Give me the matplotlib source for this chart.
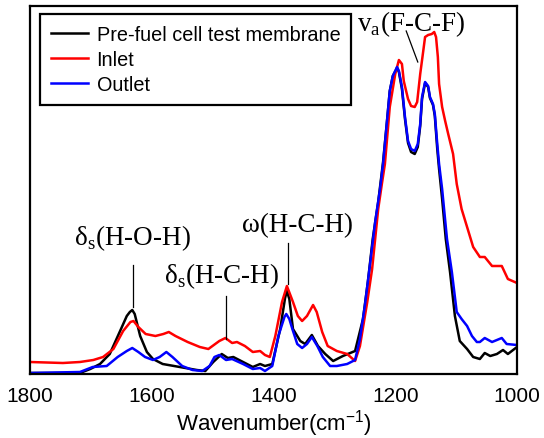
import matplotlib
matplotlib.use("Agg")
import matplotlib.pyplot as plt
import numpy as np

plt.rcParams["font.family"] = ["Liberation Sans", "DejaVu Sans"]
plt.rcParams["mathtext.fontset"] = "custom"
plt.rcParams["mathtext.rm"] = "Liberation Serif"
plt.rcParams["mathtext.sf"] = "Liberation Sans"

# FTIR spectra (arb. units)
wn_pre = [1800, 1718, 1701, 1685, 1669, 1652, 1641, 1636, 1632, 1628, 1619, 1608,
          1598, 1582, 1554, 1526, 1512, 1499, 1485, 1475, 1466, 1450, 1434, 1422,
          1414, 1402, 1389, 1381, 1378, 1374, 1368, 1356, 1348, 1337, 1327, 1315,
          1302, 1286, 1266, 1253, 1245, 1237, 1228, 1220, 1214, 1209, 1204, 1197,
          1194, 1189, 1184, 1179, 1174, 1168, 1163, 1159, 1156, 1151, 1146, 1143,
          1138, 1135, 1131, 1128, 1123, 1117, 1110, 1102, 1094, 1082, 1072, 1061,
          1053, 1044, 1033, 1023, 1015, 1000]
abs_pre = [1, 1, 5, 10, 20, 43, 58, 62, 64, 60, 38, 22,
           15, 10, 7, 4, 3, 12, 20, 16, 17, 12, 7, 10,
           8, 10, 45, 76, 83, 75, 45, 33, 30, 39, 28, 20,
           13, 18, 23, 55, 92, 135, 172, 212, 250, 283, 298, 306,
           302, 285, 255, 231, 222, 220, 227, 248, 275, 291, 287, 276,
           269, 258, 225, 205, 175, 135, 102, 58, 33, 25, 17, 15,
           21, 18, 20, 24, 20, 27]

wn_inlet = [1800, 1746, 1718, 1696, 1680, 1663, 1647, 1635, 1630, 1622, 1610, 1594,
            1581, 1572, 1561, 1541, 1521, 1507, 1489, 1479, 1468, 1460, 1447, 1434,
            1422, 1414, 1406, 1397, 1386, 1378, 1368, 1360, 1353, 1345, 1335, 1329,
            1320, 1311, 1296, 1279, 1266, 1258, 1246, 1238, 1228, 1222, 1217, 1209,
            1200, 1194, 1189, 1186, 1179, 1174, 1168, 1164, 1159, 1154, 1151, 1146,
            1140, 1136, 1133, 1130, 1128, 1123, 1118, 1113, 1105, 1099, 1091, 1081,
            1072, 1061, 1053, 1041, 1025, 1015, 1000]
abs_inlet = [12, 11, 12, 14, 17, 25, 43, 52, 53, 47, 40, 38,
             40, 42, 38, 32, 27, 25, 33, 36, 31, 32, 28, 22,
             23, 19, 17, 38, 72, 88, 72, 58, 53, 58, 69, 62,
             42, 28, 23, 20, 13, 28, 72, 105, 165, 190, 210, 267,
             300, 314, 310, 293, 275, 268, 267, 272, 300, 323, 337, 339,
             340, 342, 337, 317, 290, 267, 253, 240, 220, 190, 165, 145,
             127, 117, 117, 108, 108, 95, 91]

wn_outlet = [1800, 1718, 1697, 1674, 1656, 1641, 1632, 1622, 1611, 1598, 1587, 1576,
             1566, 1550, 1533, 1517, 1505, 1497, 1489, 1478, 1468, 1450, 1434, 1422,
             1414, 1402, 1392, 1382, 1379, 1374, 1369, 1361, 1353, 1345, 1337, 1328,
             1319, 1307, 1296, 1279, 1266, 1258, 1250, 1241, 1233, 1225, 1220, 1214,
             1209, 1204, 1197, 1194, 1189, 1184, 1179, 1174, 1168, 1163, 1159, 1156,
             1151, 1146, 1143, 1138, 1135, 1131, 1128, 1123, 1115, 1107, 1099, 1091,
             1082, 1074, 1066, 1061, 1053, 1041, 1025, 1017, 1000]
abs_outlet = [1, 2, 7, 8, 17, 23, 26, 22, 17, 14, 17, 22,
              17, 8, 4, 3, 8, 17, 19, 14, 15, 10, 5, 6,
              3, 8, 38, 57, 60, 55, 45, 30, 26, 30, 37, 28,
              17, 8, 8, 10, 14, 35, 68, 112, 152, 185, 210, 250,
              283, 298, 307, 303, 287, 257, 233, 225, 223, 230, 250, 277,
              292, 288, 277, 270, 260, 230, 210, 185, 135, 102, 62, 55,
              48, 38, 32, 32, 36, 32, 36, 30, 29]

series = [
    ("Pre-fuel cell test membrane", wn_pre, abs_pre, "black"),
    ("Inlet", wn_inlet, abs_inlet, "red"),
    ("Outlet", wn_outlet, abs_outlet, "blue"),
]

# band labels: text, text position, leader line ends
bands = [
    ("δ$_\\mathrm{s}$(H-O-H)", (1632, 130), (1631, 67), (1631, 109)),
    ("δ$_\\mathrm{s}$(H-C-H)", (1485, 92), (1478, 35), (1478, 78)),
    ("ω(H-C-H)", (1360, 143), (1376, 90), (1376, 131)),
    ("v$_\\mathrm{a}$(F-C-F)", (1174, 344), (1163, 312), (1182, 343)),
]

fig = plt.figure(figsize=(5.44, 4.39), dpi=100)
ax = fig.add_axes([30 / 544, 64 / 439, 487 / 544, 368 / 439])

for name, x, y, c in series:
    ax.plot(x, y, color=c, lw=1.8, label=name, solid_joinstyle="round")

for txt, (tx, ty), p0, p1 in bands:
    ax.plot([p0[0], p1[0]], [p0[1], p1[1]], color="black", lw=0.9)
    ax.text(tx, ty, txt, ha="center", va="baseline", fontsize=19.5,
            family=["Liberation Serif", "DejaVu Serif"])

ax.set_xlim(1800, 1000)
ax.set_ylim(0, 368)
ax.set_yticks([])
ax.set_xticks([1800, 1600, 1400, 1200, 1000])
ax.tick_params(axis="x", length=0, labelsize=15, pad=9)
ax.set_xlabel(r"Wavenumber(cm$^{\mathsf{-1}}$)", fontsize=16, labelpad=1)
for s in ax.spines.values():
    s.set_linewidth(1.6)

leg = ax.legend(loc="upper left", bbox_to_anchor=(10 / 487, 360 / 368),
                borderaxespad=0, fontsize=14.3, handlelength=1.85,
                handletextpad=0.45, labelspacing=0.3, borderpad=0.55,
                fancybox=False, framealpha=1, edgecolor="black")
leg.get_frame().set_linewidth(1.6)

fig.savefig("out.png", dpi=100)
